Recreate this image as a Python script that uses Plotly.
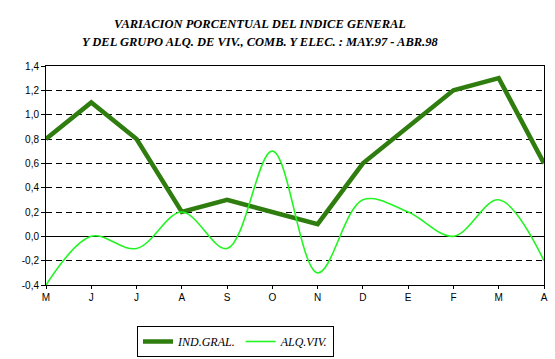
import plotly.graph_objects as go

months = ["M", "J", "J", "A", "S", "O", "N", "D", "E", "F", "M", "A"]
ind_gral = [0.8, 1.1, 0.8, 0.2, 0.3, 0.2, 0.1, 0.6, 0.9, 1.2, 1.3, 0.6]
alq_viv = [-0.4, 0.0, -0.1, 0.2, -0.1, 0.7, -0.3, 0.3, 0.2, 0.0, 0.3, -0.2]
y_ticks = [-0.4, -0.2, 0.0, 0.2, 0.4, 0.6, 0.8, 1.0, 1.2, 1.4]
y_tick_text = ["-0,4", "-0,2", "0,0", "0,2", "0,4", "0,6", "0,8", "1,0", "1,2", "1,4"]
title_lines = [
    "VARIACION PORCENTUAL DEL INDICE GENERAL",
    "Y DEL GRUPO ALQ. DE VIV., COMB. Y ELEC. : MAY.97 - ABR.98",
]

idx = list(range(len(months)))
W, H = 555, 359

fig = go.Figure()
fig.add_trace(go.Scatter(
    x=idx, y=ind_gral, mode="lines", name="IND.GRAL.",
    line=dict(color="#2E7D0E", width=4.5),
))
fig.add_trace(go.Scatter(
    x=idx, y=alq_viv, mode="lines", name="ALQ.VIV.",
    line=dict(color="#22F522", width=1.6, shape="spline", smoothing=1.0),
))

for line_text, yc in zip(title_lines, [24, 42]):
    fig.add_annotation(
        text="<b><i>" + line_text + "</i></b>",
        xref="paper", yref="paper",
        x=(260 - 46) / 498, y=(285 - yc) / 219,
        xanchor="center", yanchor="middle", showarrow=False,
        font=dict(family="Liberation Serif", size=12.5, color="black"),
    )

fig.update_layout(
    width=W, height=H,
    margin=dict(l=46, r=11, t=66, b=74, autoexpand=False),
    paper_bgcolor="white", plot_bgcolor="white",
    showlegend=True,
    legend=dict(
        orientation="h",
        xref="container", yref="container",
        x=137 / W, xanchor="left",
        y=1 - 326 / H, yanchor="top",
        bordercolor="black", borderwidth=1,
        font=dict(family="Liberation Serif", size=12, color="black", style="italic"),
        itemwidth=30,
        tracegroupgap=0,
    ),
    font=dict(family="Liberation Sans", size=10, color="black"),
)

fig.update_xaxes(
    range=[0, len(months) - 1], automargin=False,
    tickmode="array", tickvals=idx, ticktext=months,
    showgrid=False, zeroline=False,
    showline=True, linecolor="black", linewidth=1, mirror=True,
    ticks="outside", ticklen=3, tickcolor="black",
    tickfont=dict(family="Liberation Sans", size=10, color="black"),
)
fig.update_yaxes(
    range=[-0.4, 1.4], automargin=False,
    tickmode="array", tickvals=y_ticks, ticktext=y_tick_text,
    showgrid=True, gridcolor="black", gridwidth=1, griddash="6px,4px",
    zeroline=True, zerolinecolor="black", zerolinewidth=1.2,
    showline=True, linecolor="black", linewidth=1, mirror=True,
    ticks="outside", ticklen=4, tickcolor="black",
    tickfont=dict(family="Liberation Sans", size=10, color="black"),
)

fig.write_html(
    "out.html",
    config={"displayModeBar": False},
    post_script="document.body.style.margin='0px';document.body.style.padding='0px';",
)
